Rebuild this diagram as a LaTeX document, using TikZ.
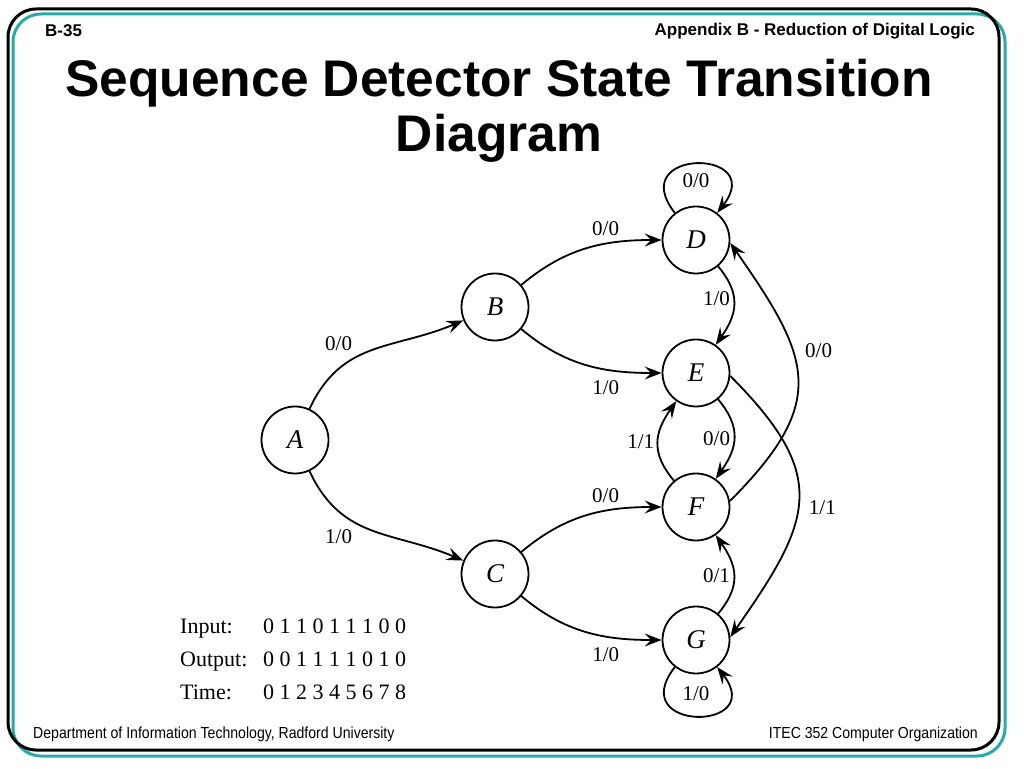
\documentclass[tikz,border=0pt]{standalone}
\usepackage{fontspec}
\setmainfont{Liberation Serif}
\newfontfamily\headfont{Liberation Sans}
\newfontfamily\footfont[FakeStretch=0.88]{Liberation Sans}
\usetikzlibrary{positioning, arrows.meta}
\definecolor{frameteal}{RGB}{40,170,166}

\begin{document}
\begin{tikzpicture}[
    x=1pt, y=1pt,
    on grid,
    >={Stealth[length=17pt, width=13pt, inset=6.5pt]},
    state/.style={circle, draw, line width=1.8pt, minimum size=67pt, inner sep=0pt,
                  font=\fontsize{27}{27}\selectfont\itshape},
    trans/.style={->, line width=1.8pt},
    io/.style={font=\fontsize{21}{21}\selectfont, inner sep=3pt},
    heading/.style={font=\headfont\bfseries\fontsize{17}{17}\selectfont, inner sep=0pt},
    title/.style={font=\headfont\bfseries\fontsize{51.5}{52}\selectfont, anchor=base, inner sep=0pt},
    footer/.style={font=\footfont\fontsize{16}{16}\selectfont, inner sep=0pt},
    row/.style={font=\fontsize{22}{22}\selectfont, anchor=base west, inner sep=0pt}
  ]
  \useasboundingbox (0,0) rectangle (1024,768);

  % Slide frame
  \draw[frameteal, line width=3pt, rounded corners=28pt] (13,12) rectangle (1005,754);
  \draw[line width=3pt, rounded corners=28pt] (8,18) rectangle (999,759);

  % Header and title
  \node[heading, anchor=base west] (page) at (45,731) {B-35};
  \node[heading, anchor=base east] (chapter) at (975,732) {Appendix B - Reduction of Digital Logic};
  \node[title] (title1) at (499,671) {Sequence Detector State Transition};
  \node[title] (title2) at (499,616) {Diagram};

  % States
  \node[state] (A) at (295,328) {A};
  \node[state] (B) [above right=133pt and 200pt of A] {B};
  \node[state] (C) [below right=134pt and 200pt of A] {C};
  \node[state] (D) [above right=67pt and 201pt of B] {D};
  \node[state] (E) [below right=66pt and 201pt of B] {E};
  \node[state] (F) [below=134pt of E] {F};
  \node[state] (G) [below=133pt of F] {G};

  % Transitions
  \draw[trans] (A) to[out=65, in=203, looseness=1.1] node[io, above left=2pt, pos=0.4] {0/0} (B);
  \draw[trans] (A) to[out=-65, in=157, looseness=1.1] node[io, below left=2pt, pos=0.4] {1/0} (C);
  \draw[trans] (B) to[out=40, in=180] node[io, above=4pt, pos=0.64] {0/0} (D);
  \draw[trans] (B) to[out=-40, in=180] node[io, below=7pt, pos=0.64] {1/0} (E);
  \draw[trans] (C) to[out=40, in=180] node[io, above=4pt, pos=0.64] {0/0} (F);
  \draw[trans] (C) to[out=-40, in=180] node[io, below=7pt, pos=0.64] {1/0} (G);
  \draw[trans] (D) to[out=-50, in=55, looseness=1.2] node[io, left, pos=0.42] {1/0} (E);
  \draw[trans] (E) to[out=-50, in=55, looseness=1.2] node[io, left] {0/0} (F);
  \draw[trans] (F) to[out=130, in=-125, looseness=1.2] node[io, left] {1/1} (E);
  \draw[trans] (G) to[out=50, in=-55, looseness=1.2] node[io, left] {0/1} (F);
  \draw[trans] (F.10) to[out=45, in=-55, looseness=1.4] node[io, right=9pt, pos=0.62] {0/0} (D.-5);
  \draw[trans] (E.-5) to[out=-45, in=55, looseness=1.4] node[io, right=7pt, pos=0.53] {1/1} (G.5);

  % Self loops
  \draw[trans] (D) to[loop, out=128, in=52, looseness=5] node[io, below=6pt] {0/0} (D);
  \draw[trans] (G) to[loop, out=-128, in=-52, looseness=5] node[io, above=11pt] {1/0} (G);

  % Input / output table
  \node[row] (inname) at (180,135) {Input:};
  \node[row] (inbits) at (263,135) {0 1 1 0 1 1 1 0 0};
  \node[row] (outname) at (180,102) {Output:};
  \node[row] (outbits) at (263,102) {0 0 1 1 1 1 0 1 0};
  \node[row] (timename) at (180,69) {Time:};
  \node[row] (timebits) at (263,69) {0 1 2 3 4 5 6 7 8};

  % Footer
  \node[footer, anchor=base west] (dept) at (33,30) {Department of Information Technology, Radford University};
  \node[footer, anchor=base east] (course) at (978,30) {ITEC 352 Computer Organization};
\end{tikzpicture}
\end{document}
